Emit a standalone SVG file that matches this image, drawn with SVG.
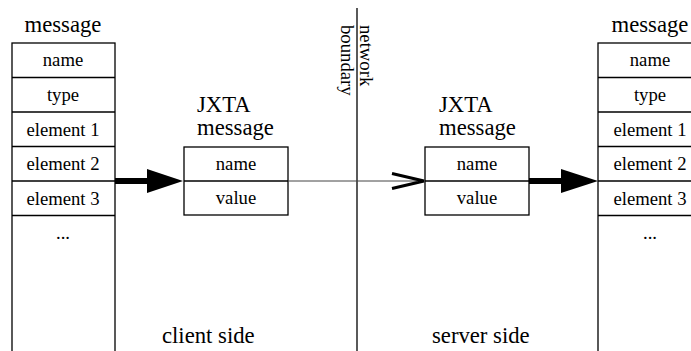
<svg xmlns="http://www.w3.org/2000/svg" width="691" height="351" viewBox="0 0 691 351" font-family="'Liberation Serif', serif">
<style>
text{font-family:"Liberation Serif",serif;fill:#000}
.big{font-size:22.7px}
.sm{font-size:18.7px}
.c{text-anchor:middle}
.box{fill:#fff;stroke:#000;stroke-width:1.3}
.rl{stroke:#000;stroke-width:1.3}
</style>
<rect width="691" height="351" fill="#fff"/>
<g id="client-message">
<text class="big c" x="63" y="32">message</text>
<rect class="box" x="12" y="43" width="103" height="330"/>
<line class="rl" x1="12" y1="77.5" x2="115" y2="77.5"/>
<line class="rl" x1="12" y1="112" x2="115" y2="112"/>
<line class="rl" x1="12" y1="146.5" x2="115" y2="146.5"/>
<line class="rl" x1="12" y1="181" x2="115" y2="181"/>
<line class="rl" x1="12" y1="215.5" x2="115" y2="215.5"/>
<text class="sm c" x="63" y="66">name</text>
<text class="sm c" x="63" y="100.5">type</text>
<text class="sm c" x="63" y="135.5">element 1</text>
<text class="sm c" x="63" y="170">element 2</text>
<text class="sm c" x="63" y="204.5">element 3</text>
<text class="sm c" x="63" y="239">...</text>
</g>
<g id="client-jxta">
<text class="big" x="197" y="112">JXTA</text>
<text class="big" x="197" y="135">message</text>
<rect class="box" x="184" y="147" width="104" height="68"/>
<line class="rl" x1="184" y1="181" x2="288" y2="181"/>
<text class="sm c" x="236" y="170">name</text>
<text class="sm c" x="236" y="204">value</text>
</g>
<g id="server-jxta">
<text class="big" x="439" y="112">JXTA</text>
<text class="big" x="439" y="135">message</text>
<rect class="box" x="425" y="147" width="104" height="68"/>
<line class="rl" x1="425" y1="181" x2="529" y2="181"/>
<text class="sm c" x="477" y="170">name</text>
<text class="sm c" x="477" y="204">value</text>
</g>
<g id="server-message">
<text class="big c" x="650" y="32">message</text>
<rect class="box" x="598" y="43" width="103" height="330"/>
<line class="rl" x1="598" y1="77.5" x2="701" y2="77.5"/>
<line class="rl" x1="598" y1="112" x2="701" y2="112"/>
<line class="rl" x1="598" y1="146.5" x2="701" y2="146.5"/>
<line class="rl" x1="598" y1="181" x2="701" y2="181"/>
<line class="rl" x1="598" y1="215.5" x2="701" y2="215.5"/>
<text class="sm c" x="650" y="66">name</text>
<text class="sm c" x="650" y="100.5">type</text>
<text class="sm c" x="650" y="135.5">element 1</text>
<text class="sm c" x="650" y="170">element 2</text>
<text class="sm c" x="650" y="204.5">element 3</text>
<text class="sm c" x="650" y="239">...</text>
</g>
<g id="boundary">
<line x1="357" y1="8" x2="357" y2="351" stroke="#000" stroke-width="1.3"/>
<text class="sm" transform="translate(359.5,25) rotate(90)">network</text>
<text class="sm" transform="translate(340.5,25) rotate(90)">boundary</text>
</g>
<g id="labels">
<text class="big" x="162" y="343">client side</text>
<text class="big" x="432" y="343">server side</text>
</g>
<g id="connectors">
<line x1="115" y1="181" x2="149" y2="181" stroke="#000" stroke-width="6"/>
<polygon points="147,169 183,181 147,193" fill="#000"/>
<line x1="288" y1="181" x2="423" y2="181" stroke="#444" stroke-width="1"/>
<polyline points="392,173.5 424,181 392,188.5" fill="none" stroke="#000" stroke-width="3"/>
<line x1="529" y1="181" x2="563" y2="181" stroke="#000" stroke-width="6"/>
<polygon points="561,169 598,181 561,193" fill="#000"/>
</g>
</svg>
